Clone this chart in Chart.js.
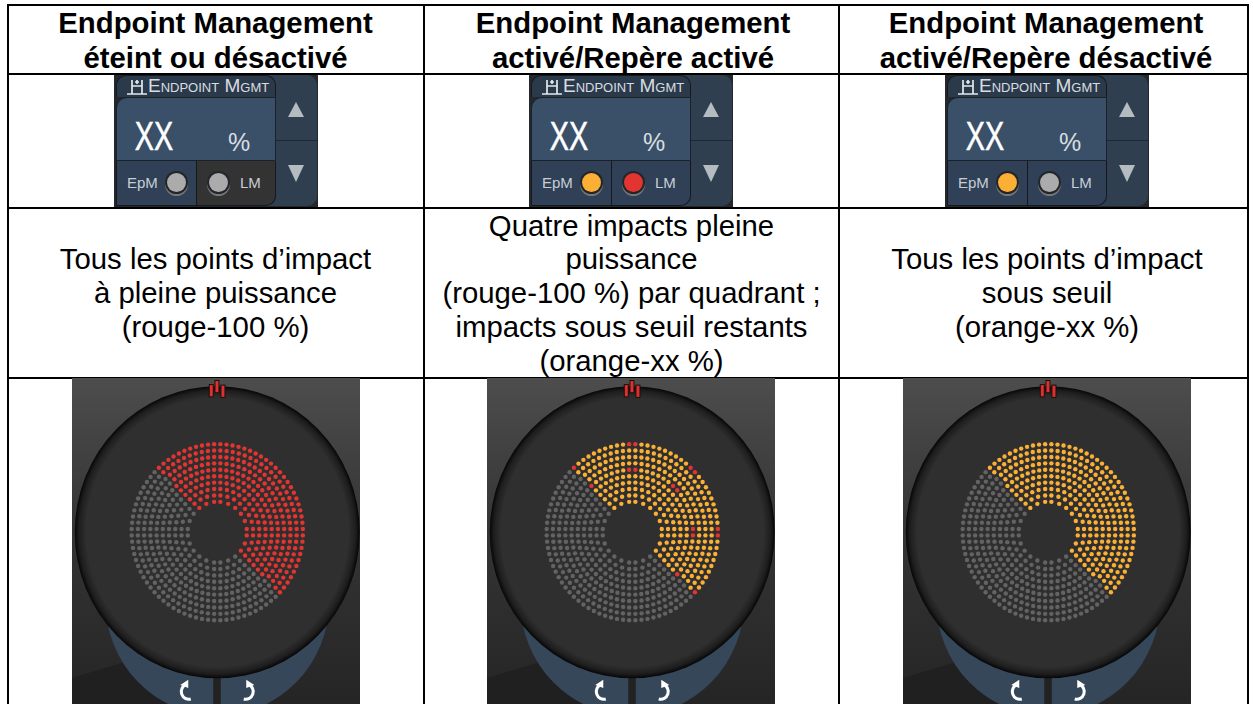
<!DOCTYPE html>
<html lang="fr">
<head>
<meta charset="utf-8">
<title>Endpoint Management</title>
<script src="https://cdn.jsdelivr.net/npm/chart.js@4"></script>
<style>
    html, body { margin: 0; background: #fff; overflow: hidden; }
    body { position: relative; width: 1253px; height: 704px; font-family: "Liberation Sans", Arial, sans-serif; color: #000; }
    .rule { position: absolute; background: #000; }
    .cell { position: absolute; text-align: center; font-size: 29.33px; line-height: 33.7px; white-space: pre-line; }
    .cell.head { font-weight: bold; line-height: 34.5px; }
    canvas.dial { position: absolute; top: 378px; }
    .w { position: absolute; top: 75px; width: 204px; height: 132px; background: #24282d; }
    .w div, .w span, .w svg { position: absolute; }
    .w .side { left: 150px; top: 0; width: 53px; height: 131px; background: #2f3f50; border-radius: 0 10px 10px 0; }
    .w .sep { left: 162px; top: 65px; width: 41px; height: 1px; background: #1e2832; }
    .w .up { left: 174px; top: 27px; border: 8.5px solid transparent; border-top: 0; border-bottom: 15px solid #b4bcc0; }
    .w .down { left: 174px; top: 90px; border: 8.5px solid transparent; border-bottom: 0; border-top: 17px solid #b4bcc0; }
    .w .top { left: 2px; top: 0; width: 160px; height: 22px; background: #2b3a4a; border-radius: 10px 10px 0 0; border: 1px solid #15191e; border-bottom: 0; box-sizing: border-box; }
    .w .name { left: 34px; top: -1px; font-size: 19px; line-height: 24px; font-variant: small-caps; color: #d8dde2; white-space: nowrap; }
    .w .screen { left: 2px; top: 22px; width: 160px; height: 64px; background: #3a5068; border-radius: 11px 0 0 0; border: 1px solid #1a2129; box-sizing: border-box; }
    .w .xx { left: 4px; top: 41px; width: 72px; text-align: center; font-size: 40px; line-height: 40px; color: #fff; transform: scaleX(.72); -webkit-text-stroke: .5px #fff; }
    .w .pct { left: 114px; top: 52px; font-size: 25px; line-height: 30px; color: #d8dde2; }
    .w .cellb { top: 86px; height: 45px; box-sizing: border-box; border: 1px solid #15191e; border-top: 0; }
    .w .lbl { top: 98px; font-size: 15px; line-height: 20px; color: #c8ced4; }
    .w .led { top: 98px; width: 19px; height: 19px; border-radius: 50%; box-shadow: 0 0 0 2px #22262b, 0 2px 0 2px #777; }
</style>
</head>
<body>
<script>
// table text
const headLines = ['Endpoint Management\néteint ou désactivé', 'Endpoint Management\nactivé/Repère activé', 'Endpoint Management\nactivé/Repère désactivé'];
const bodyLines = ['Tous les points d’impact\nà pleine puissance\n(rouge-100 %)',
    'Quatre impacts pleine\npuissance\n(rouge-100 %) par quadrant ;\nimpacts sous seuil restants\n(orange-xx %)',
    'Tous les points d’impact\nsous seuil\n(orange-xx %)'];

// impact rings: radius, and how many impacts sit in each quadrant of that ring
const ringRadii = [30.5, 36.9, 43.3, 49.7, 56.1, 62.5, 68.9, 75.3, 81.7, 88.1];
const ringCounts = [6, 8, 10, 12, 14, 16, 17, 19, 20, 22];
// lit part of the pattern, clock angle in degrees
const litFrom = -44;
const litTo = 134;
// ring index + clock angle of the full power impacts in the middle pattern
const fullPowerSpots = [[9, -2], [9, 2], [5, -3], [5, 3], [9, 43], [9, 47], [5, 42.5], [5, 47.5],
    [5, 87], [5, 93], [9, 88], [9, 92], [5, 132.5], [9, 133], [9, -43], [5, -42.5]];

const RED = '#e23531', ORANGE = '#fbb035', GREY = '#636363', LED_OFF = '#ababab';

const rule = (l, t, w, h) => {
    const d = document.createElement('div');
    d.className = 'rule';
    d.style.cssText = `left:${l}px;top:${t}px;width:${w}px;height:${h}px`;
    document.body.appendChild(d);
};
const cell = (cls, l, w, t, h, text) => {
    const d = document.createElement('div');
    d.className = cls;
    d.style.cssText = `left:${l}px;width:${w}px;top:${t}px;height:${h}px`;
    d.textContent = text;
    document.body.appendChild(d);
};

[7, 423, 838, 1247].forEach(x => rule(x, 4, 1.5, 700));
[4, 73, 207, 377].forEach(y => rule(7, y, 1241.5, 1.5));

const colLeft = [8, 426, 842];
const bodyLeft = [8, 424.5, 843];
const colWidth = [415, 414, 408];
headLines.forEach((t, i) => cell('cell head', colLeft[i], colWidth[i], 6, 68, t));
bodyLines.forEach((t, i) => {
    const lines = t.split('\n').length;
    cell('cell', bodyLeft[i], colWidth[i], 293 - lines * 33.7 / 2, 170, t);
});

const widget = (left, epm, lm, lmCell) => {
    const w = document.createElement('div');
    w.className = 'w';
    w.style.left = left + 'px';
    w.innerHTML = `
        <div class="side"></div><div class="sep"></div><div class="up"></div><div class="down"></div>
        <div class="top"></div>
        <svg style="left:13px;top:3px" width="20" height="18" fill="none" stroke="#e4e8ec" stroke-width="1.7"><path d="M0 16H20M5 2V16M15 2V16M5 8H15M10 2V6M8 4H12"/></svg>
        <span class="name">Endpoint Mgmt</span>
        <div class="screen"></div>
        <span class="xx">XX</span><span class="pct">%</span>
        <div class="cellb" style="left:2px;width:81px;background:#2f4057"></div>
        <div class="cellb" style="left:82px;width:80px;background:${lmCell};border-radius:0 0 10px 0"></div>
        <span class="lbl" style="left:13px">EpM</span>
        <div class="led" style="left:53px;background:${epm}"></div>
        <div class="led" style="left:95px;background:${lm}"></div>
        <span class="lbl" style="left:126px">LM</span>`;
    document.body.appendChild(w);
};
widget(114, LED_OFF, LED_OFF, '#333333');
widget(529, ORANGE, '#e23531', '#2f4057');
widget(945, ORANGE, LED_OFF, '#2f4057');

// clock angles of one ring, quadrant by quadrant
const ringAngles = (ring) => {
    const r = ringRadii[ring], n = ringCounts[ring];
    const first = Math.asin(3.2 / r) * 180 / Math.PI;
    const step = (90 - 2 * first) / (n - 1);
    const out = [];
    for (let q = 0; q < 4; q++) {
        for (let k = 0; k < n; k++) out.push(q * 90 + first + k * step);
    }
    return out;
};
const allImpacts = ringRadii.flatMap((r, ring) => ringAngles(ring).map(a => {
    const deg = a > 180 ? a - 360 : a;
    return { ring, deg, x: r * Math.sin(a * Math.PI / 180), y: r * Math.cos(a * Math.PI / 180) };
}));
const isLit = p => p.deg >= litFrom && p.deg <= litTo;
const isSpot = p => fullPowerSpots.some(s => s[0] === p.ring && Math.abs(s[1] - p.deg) < 1.6);

const dialBackground = {
    id: 'dialBackground',
    beforeDatasetsDraw(chart) {
        const { ctx, width, height } = chart;
        const cx = chart.scales.x.getPixelForValue(0);
        const cy = chart.scales.y.getPixelForValue(0);
        ctx.save();
        const bg = ctx.createLinearGradient(0, 0, 0, height);
        bg.addColorStop(0, '#4d4d4d');
        bg.addColorStop(.45, '#353535');
        bg.addColorStop(1, '#252525');
        ctx.fillStyle = bg;
        ctx.fillRect(0, 0, width, height);
        ctx.fillStyle = '#202020';
        ctx.beginPath();
        ctx.moveTo(0, 300);
        ctx.lineTo(60, 282);
        ctx.lineTo(130, height);
        ctx.lineTo(0, height);
        ctx.fill();

        ctx.translate(cx, cy);
        ctx.scale(1, 1.025);
        // blue ring under the dial
        ctx.fillStyle = '#36475a';
        ctx.beginPath();
        ctx.arc(0, 67, 112, 0, Math.PI * 2);
        ctx.fill();
        ctx.fillStyle = '#222222';
        ctx.fillRect(-4, 130, 7.5, 60);
        // turn arrows
        ctx.strokeStyle = '#ffffff';
        ctx.fillStyle = '#ffffff';
        ctx.lineWidth = 3;
        [-1, 1].forEach(side => {
            ctx.save();
            ctx.scale(side, 1);
            ctx.beginPath();
            ctx.arc(-28.5, 155.5, 7.5, -1.9, 1.3, true);
            ctx.stroke();
            ctx.beginPath();
            ctx.moveTo(-37, 149);
            ctx.lineTo(-29, 144);
            ctx.lineTo(-29, 152);
            ctx.fill();
            ctx.restore();
        });
        // dial
        const g = ctx.createRadialGradient(0, 0, 0, 0, 0, 142.5);
        g.addColorStop(0, '#2f2f2f');
        g.addColorStop(.92, '#2f2f2f');
        g.addColorStop(.97, '#1e1e1e');
        g.addColorStop(1, '#060606');
        ctx.fillStyle = g;
        ctx.beginPath();
        ctx.arc(0, 0, 142.5, 0, Math.PI * 2);
        ctx.fill();
        // aiming mark on top
        ctx.fillStyle = '#e0302e';
        ctx.strokeStyle = '#1a1010';
        ctx.lineWidth = 1;
        [[-8, -144, 4, 12], [-2.3, -148, 4, 12], [3.7, -143.5, 4, 12]].forEach(b => {
            ctx.fillRect(b[0], b[1], b[2], b[3]);
            ctx.strokeRect(b[0], b[1], b[2], b[3]);
        });
        ctx.restore();
    }
};

const dial = (left, color, spots) => {
    const canvas = document.createElement('canvas');
    canvas.className = 'dial';
    canvas.style.left = left + 'px';
    canvas.width = 288;
    canvas.height = 326;
    canvas.style.width = '288px';
    canvas.style.height = '326px';
    document.body.appendChild(canvas);
    const off = allImpacts.filter(p => !isLit(p));
    const lit = allImpacts.filter(p => isLit(p) && !(spots && isSpot(p)));
    const full = spots ? allImpacts.filter(p => isLit(p) && isSpot(p)) : [];
    const set = (data, c) => ({ data, backgroundColor: c, borderWidth: 0, pointRadius: 2.2 });
    return new Chart(canvas, {
        type: 'scatter',
        data: { datasets: [set(off, GREY), set(lit, color), set(full, RED)] },
        options: {
            responsive: false,
            animation: false,
            events: [],
            plugins: { legend: { display: false }, tooltip: { enabled: false } },
            scales: {
                x: { display: false, min: -145.3, max: 142.7 },
                y: { display: false, min: -167.8, max: 150.2 }
            }
        },
        plugins: [dialBackground]
    });
};

dial(72, RED, false);
dial(487, ORANGE, true);
dial(902.5, ORANGE, false);
</script>
</body>
</html>
